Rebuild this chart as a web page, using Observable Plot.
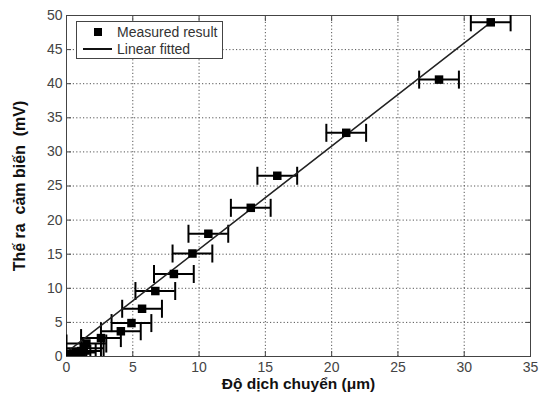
<!DOCTYPE html>
<html>
<head>
<meta charset="utf-8">
<script src="https://cdn.jsdelivr.net/npm/d3@7"></script>
<script src="https://cdn.jsdelivr.net/npm/@observablehq/plot@0.6"></script>
<style>
  html, body { margin: 0; padding: 0; background: #fff; }
  #wrap { position: relative; width: 540px; height: 396px; font-family: "Liberation Sans", Arial, sans-serif; }
  #legend { position: absolute; left: 76px; top: 21px; width: 145px; height: 36px; border: 1px solid #444; background: #fff; font-size: 14px; color: #333; }
  .row { position: absolute; left: 0; width: 145px; height: 18px; line-height: 18px; }
  .txt { position: absolute; left: 40px; top: 0; white-space: nowrap; }
  .sq { position: absolute; left: 17px; top: 5px; width: 8px; height: 8px; background: #000; }
  .ln { position: absolute; left: 6px; top: 8px; width: 29px; height: 2px; background: #111; }
</style>
</head>
<body>
<div id="wrap"></div>
<script>
// Data
const dispX = [0.0, 0.3, 0.7, 1.1, 1.3, 1.5, 2.6, 4.1, 4.9, 5.7, 6.7, 8.1, 9.5, 10.7, 13.9, 15.9, 21.1, 28.1, 32.0];
const voltY = [0.2, 0.4, 0.6, 0.8, 1.2, 1.9, 2.7, 3.7, 4.9, 7.0, 9.6, 12.1, 15.1, 18.0, 21.8, 26.5, 32.8, 40.6, 49.0];
const errX  = [1.5, 1.5, 1.5, 1.5, 1.5, 1.5, 1.5, 1.5, 1.5, 1.5, 1.5, 1.5, 1.5, 1.5, 1.5, 1.5, 1.5, 1.5, 1.5];
const fitX = [0, 32.0];
const fitY = [0.6, 49.0];
const xTicks = [0, 5, 10, 15, 20, 25, 30, 35];
const yTicks = [0, 5, 10, 15, 20, 25, 30, 35, 40, 45, 50];
const xLabel = "Độ dịch chuyển (μm)";
const yLabel = "Thế ra  cảm biến  (mV)";
const legendLabels = ["Measured result", "Linear fitted"];

const pts = dispX.map((x, i) => ({x, y: voltY[i], lo: x - errX[i], hi: x + errX[i]}));
const fit = fitX.map((x, i) => ({x, y: fitY[i]}));

const capSymbol = {
  draw(ctx, size) {
    const r = Math.sqrt(size / Math.PI);
    ctx.moveTo(0, -r);
    ctx.lineTo(0, r);
  }
};

const gridStyle = {stroke: "#555", strokeOpacity: 1, strokeWidth: 1, strokeDasharray: "1.2,2.2"};
const tickStyle = {tickSize: -5, text: null, label: null, stroke: "#444", strokeWidth: 1};

const chart = Plot.plot({
  width: 540,
  height: 396,
  marginLeft: 66,
  marginRight: 10,
  marginTop: 15,
  marginBottom: 40,
  style: {fontFamily: "'Liberation Sans', Arial, sans-serif", fontSize: "14px", color: "#333", background: "#fff"},
  x: {domain: [0, 35]},
  y: {domain: [0, 50]},
  marks: [
    Plot.gridX(xTicks, gridStyle),
    Plot.gridY(yTicks, gridStyle),
    Plot.frame({stroke: "#444", strokeWidth: 1}),
    Plot.axisX(xTicks, {tickSize: 0, tickPadding: 6, label: null, fill: "#444", fontSize: 14}),
    Plot.axisY(yTicks, {tickSize: 0, tickPadding: 4, label: null, fill: "#444", fontSize: 14}),
    Plot.axisX(xTicks, {anchor: "bottom", ...tickStyle}),
    Plot.axisX(xTicks, {anchor: "top", ...tickStyle}),
    Plot.axisY(yTicks, {anchor: "left", ...tickStyle}),
    Plot.axisY(yTicks, {anchor: "right", ...tickStyle}),
    Plot.ruleY(pts, {y: "y", x1: "lo", x2: "hi", stroke: "#000", strokeWidth: 2, clip: true}),
    Plot.dot(pts, {x: "lo", y: "y", r: 9, symbol: capSymbol, stroke: "#000", strokeWidth: 2, fill: "none", clip: true}),
    Plot.dot(pts, {x: "hi", y: "y", r: 9, symbol: capSymbol, stroke: "#000", strokeWidth: 2, fill: "none", clip: true}),
    Plot.line(fit, {x: "x", y: "y", stroke: "#222", strokeWidth: 1.5, clip: true}),
    Plot.dot(pts, {x: "x", y: "y", r: 4.8, symbol: "square", fill: "#000", stroke: "none", clip: true}),
    Plot.text([xLabel], {frameAnchor: "bottom", dy: 32, fontWeight: "bold", fontSize: 15.5, fill: "#111"}),
    Plot.text([yLabel], {frameAnchor: "left", textAnchor: "middle", rotate: -90, dx: -47, fontWeight: "bold", fontSize: 16, fill: "#111"})
  ]
});

const wrap = document.getElementById("wrap");
wrap.appendChild(chart);

const legend = document.createElement("div");
legend.id = "legend";
legend.innerHTML =
  `<div class="row" style="top:1px"><span class="sq"></span><span class="txt">${legendLabels[0]}</span></div>` +
  `<div class="row" style="top:18px"><span class="ln"></span><span class="txt">${legendLabels[1]}</span></div>`;
wrap.appendChild(legend);
</script>
</body>
</html>
